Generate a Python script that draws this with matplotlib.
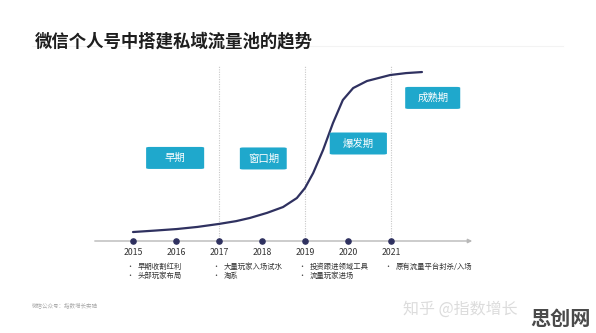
import matplotlib.pyplot as plt
from matplotlib.patches import FancyBboxPatch

plt.rcParams['font.family'] = ['Noto Sans CJK SC', 'DejaVu Sans']

# data (x in years, y as a 0-100 trend index)
years = [2015, 2016, 2017, 2018, 2019, 2020, 2021]
curve_x = [2015.0, 2015.5, 2016.02, 2016.5, 2017.0, 2017.4, 2017.72, 2018.12,
           2018.49, 2018.81, 2019.0, 2019.19, 2019.42, 2019.65, 2019.88,
           2020.12, 2020.44, 2020.98, 2021.35, 2021.72]
curve_y = [5.1, 5.9, 6.8, 8.0, 9.7, 11.3, 13.1, 16.0,
           19.3, 24.4, 30.1, 38.6, 51.7, 67.0, 80.1,
           86.9, 90.9, 94.3, 95.4, 96.0]
phases = ["早期", "窗口期", "爆发期", "成熟期"]
phase_x = [2015.98, 2018.03, 2020.24, 2021.97]
phase_y = [47.2, 46.9, 55.4, 81.3]
phase_w = [1.35, 1.09, 1.33, 1.28]
notes = [
    (2015, ["早期收割红利", "头部玩家布局"]),
    (2017, ["大量玩家入场试水", "淘系"]),
    (2019, ["投资跟进领域工具", "流量玩家进场"]),
    (2021, ["原有流量平台封杀/入场"]),
]
dividers = [2017, 2019, 2021]

navy = "#2f3160"
cyan = "#1fa8cc"

fig = plt.figure(figsize=(5.96, 3.33), dpi=100)
ax = fig.add_axes([0, 0, 1, 1])
# map axes so one year = 43px and index 100 = 176px above the time axis
ax.set_xlim(2015 - 133 / 43, 2015 + 463 / 43)
ax.set_ylim(-92 / 176 * 100, 241 / 176 * 100)
ax.axis("off")

# title
fig.text(35 / 596, 1 - 41 / 333, "微信个人号中搭建私域流量池的趋势", fontsize=12.5,
         fontweight="bold", color="#1e1e1e", va="center", ha="left")
ax.plot([2015 - 101 / 43, 2015 + 430 / 43], [110.8, 110.8], color="#f3f3f3", lw=0.8)

# time axis with arrow
ax.annotate("", xy=(2015 + 342 / 43, 0), xytext=(2015 - 41 / 43, 0),
            arrowprops=dict(arrowstyle="-|>", color="#b8b8b8", lw=1.0,
                            mutation_scale=6))
for d in dividers:
    ax.plot([d, d], [0, 100], color="#c8c8c8", lw=0.8, ls=(0, (1, 1.2)))

ax.plot(curve_x, curve_y, color=navy, lw=1.6, solid_capstyle="round",
        solid_joinstyle="round")
ax.scatter(years, [0] * len(years), s=14, color=navy, zorder=5)
for yr in years:
    ax.text(yr, -6.8, str(yr), ha="center", va="center", fontsize=6.3, color="#333333")

# phase boxes
for label, px, py, w in zip(phases, phase_x, phase_y, phase_w):
    h = 12.5
    box = FancyBboxPatch((px - w / 2, py - h / 2), w, h,
                         boxstyle="round,pad=0,rounding_size=0.08",
                         fc=cyan, ec="none", mutation_aspect=6, zorder=3)
    ax.add_patch(box)
    ax.text(px, py, label, ha="center", va="center", fontsize=7.5, color="white",
            zorder=4)

# bullet notes
for yr, lines in notes:
    for i, line in enumerate(lines):
        yy = -14.5 - i * 5.5
        ax.text(yr - 0.08, yy, "•", ha="center", va="center", fontsize=5, color="#444444")
        ax.text(yr + 0.1, yy, line, ha="left", va="center", fontsize=5.3, color="#333333")

# footer
fig.text(32 / 596, 1 - 305 / 333, "微信公众号：指数增长实验", fontsize=4, color="#aaaaaa",
         va="center", ha="left")
fig.text(403 / 596, 1 - 309 / 333, "知乎 @指数增长", fontsize=11.5, color="#dcdcdc",
         va="center", ha="left")
fig.text(591 / 596, 1 - 318 / 333, "思创网", fontsize=14.5, color="#4a4a4a",
         fontweight="bold", va="center", ha="right")

fig.savefig("out.png", dpi=100, facecolor="white")
